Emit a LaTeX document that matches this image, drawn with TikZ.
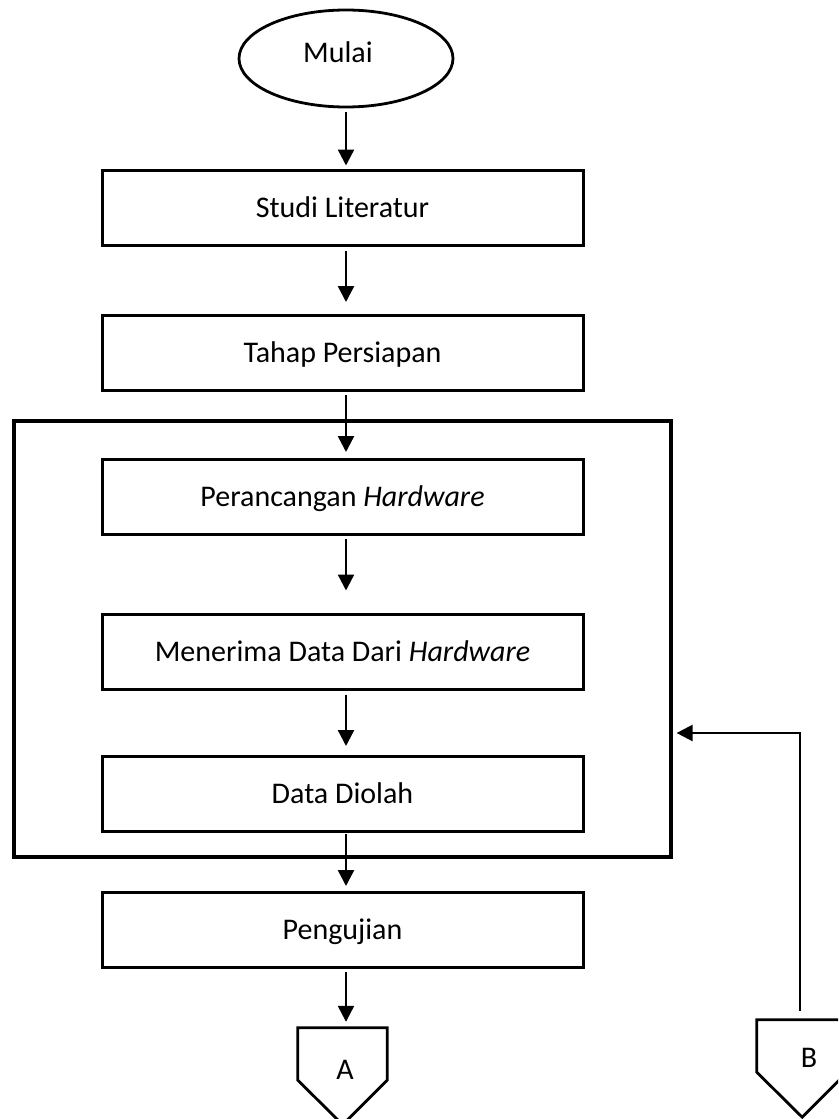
\documentclass[tikz,border=0pt]{standalone}
\usepackage{fontspec}
\setmainfont{Carlito}
\usetikzlibrary{shapes.geometric,arrows.meta}
\begin{document}
\begin{tikzpicture}[x=1pt,y=-1pt,
  txt/.style={font=\fontsize{30}{36}\selectfont},
  box/.style={draw, line width=3pt, minimum width=481pt, minimum height=75pt, inner sep=0pt, txt, text height=19pt, text depth=0pt},
  arr/.style={line width=2.4pt, -{Triangle[length=16pt,width=16pt]}},
  lbl/.style={txt, inner sep=0pt, anchor=base},
  conn/.style={minimum width=89pt, minimum height=52pt, inner sep=0pt},
  connline/.style={line width=2.8pt, line join=miter}]
\useasboundingbox (0,0) rectangle (838,1119);
\clip (0,0) rectangle (838,1119);
\fill[white] (0,0) rectangle (838,1119);

\coordinate (ax) at (346,0);

\node[ellipse, draw, line width=2.8pt, minimum width=214pt, minimum height=97pt, inner sep=0pt] (mulai) at (346,58.5) {};
\node[lbl] at (338,62) {Mulai};

\node[box] (studi) at (342.5,207.5) {Studi Literatur};
\node[box] (tahap) at (342.5,353) {Tahap Persiapan};
\node[draw, line width=3.2pt, minimum width=657pt, minimum height=436pt, inner sep=0pt] (outer) at (342.5,639) {};
\node[box] (peranc) at (342.5,497) {Perancangan \textit{Hardware}};
\node[box] (menerima) at (342.5,651.5) {Menerima Data Dari \textit{Hardware}};
\node[box] (data) at (342.5,794) {Data Diolah};
\node[box] (uji) at (342.5,930) {Pengujian};

\node[conn] (A) at (342.5,1054) {};
\draw[connline] (A.south west) -- (A.north west) -- (A.north east) -- (A.south east) -- ++(-44.5,44.5) -- cycle;
\node[lbl] at (345,1079) {A};

\node[conn, minimum width=90pt] (B) at (802,1046) {};
\draw[connline] (B.south west) -- (B.north west) -- (B.north east) -- (B.south east) -- ++(-45,45) -- cycle;
\node[lbl] at (809,1067) {B};

\draw[arr, shorten <=4pt, shorten >=3pt] (mulai.south -| ax) -- (studi.north -| ax);
\draw[arr, shorten <=4pt, shorten >=12pt] (studi.south -| ax) -- (tahap.north -| ax);
\draw[arr, shorten <=3pt, shorten >=6pt] (tahap.south -| ax) -- (peranc.north -| ax);
\draw[arr, shorten <=3pt, shorten >=22pt] (peranc.south -| ax) -- (menerima.north -| ax);
\draw[arr, shorten <=4pt, shorten >=9pt] (menerima.south -| ax) -- (data.north -| ax);
\draw[arr, shorten <=1pt, shorten >=5pt] (data.south -| ax) -- (uji.north -| ax);
\draw[arr, shorten <=3pt, shorten >=6pt] (uji.south -| ax) -- (A.north -| ax);

\coordinate (bturn) at (800,733);
\draw[arr, shorten <=9pt, shorten >=4pt] (B.north -| bturn) -- (bturn) -- (outer.east |- bturn);
\end{tikzpicture}
\end{document}
